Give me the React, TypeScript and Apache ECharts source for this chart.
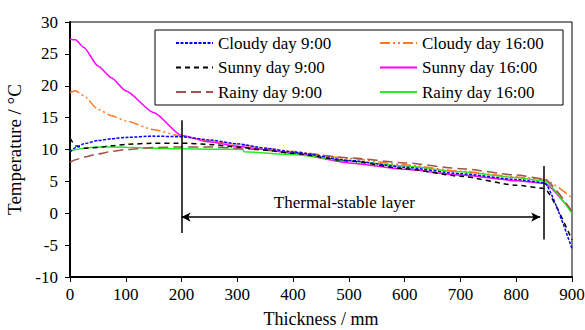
import React, { useEffect, useRef } from "react";
import * as echarts from "echarts";

const thickness = [0, 10, 25, 50, 75, 100, 150, 200, 250, 300, 350, 400, 500, 600, 700, 800, 850, 900];
const thicknessRainy16 = [0, 10, 25, 50, 100, 150, 200, 250, 310, 312, 400, 500, 600, 700, 800, 850, 900];

const cloudy9 = [9.6, 10.3, 10.9, 11.4, 11.7, 11.9, 12.1, 12.0, 11.5, 10.9, 10.2, 9.6, 8.3, 7.2, 6.2, 5.3, 4.8, -5.6];
const sunny9 = [11.8, 10.6, 10.2, 10.3, 10.6, 10.8, 11.0, 11.0, 10.8, 10.4, 9.9, 9.4, 8.2, 7.0, 5.8, 4.4, 3.9, -4.2];
const rainy9 = [8.0, 8.4, 8.8, 9.3, 9.7, 10.0, 10.3, 10.4, 10.4, 10.2, 9.9, 9.5, 8.7, 7.9, 7.0, 6.0, 5.4, 0.3];
const cloudy16 = [18.9, 19.2, 18.4, 16.3, 15.3, 14.5, 13.1, 12.1, 11.4, 10.8, 10.2, 9.7, 8.6, 7.6, 6.6, 5.7, 5.3, 2.4];
const sunny16 = [27.3, 27.2, 26.0, 23.1, 21.2, 19.2, 15.8, 12.2, 11.2, 10.5, 10.0, 9.4, 7.9, 6.9, 6.0, 5.1, 4.7, 0.2];
const rainy16 = [9.7, 10.0, 10.2, 10.4, 10.35, 10.2, 10.1, 10.05, 10.0, 9.65, 9.2, 8.2, 7.4, 6.5, 5.6, 5.1, 0.0];

const xTicks = { min: 0, max: 900, interval: 100 };
const yTicks = { min: -10, max: 30, interval: 5 };

const stableStart = 200;
const stableEnd = 850;
const arrowEnd = 843;
const arrowLevel = -0.6;
const marker1 = [14.6, -3.1];
const marker2 = [7.4, -4.1];
const annotationText = "Thermal-stable layer";
const annotationAt = [492, 1.7];

const legendLeftNames = ["Cloudy day 9:00", "Sunny day 9:00", "Rainy day 9:00"];
const legendRightNames = ["Cloudy day 16:00", "Sunny day 16:00", "Rainy day 16:00"];

const FONT = "'Liberation Serif', 'Times New Roman', serif";

function pairs(xs: number[], ys: number[]) {
  return xs.map((x, i) => [x, ys[i]]);
}

export default function App() {
  const ref = useRef<HTMLDivElement>(null);

  useEffect(() => {
    if (!ref.current) return;
    const chart = echarts.init(ref.current, null, { renderer: "svg" });

    const mk = (name: string, xs: number[], ys: number[], color: string, type: any, extra: any = {}) => ({
      name,
      type: "line",
      data: pairs(xs, ys),
      symbol: "none",
      smooth: 0.2,
      smoothMonotone: "x",
      lineStyle: { color, width: 1.5, type },
      itemStyle: { color },
      z: 3,
      ...extra,
    });

    const legendBase = {
      orient: "vertical",
      top: 34.5,
      padding: 0,
      itemWidth: 37,
      itemHeight: 14,
      itemGap: 7.5,
      selectedMode: false,
      z: 5,
      itemStyle: { color: "transparent", borderColor: "transparent", borderWidth: 0, opacity: 0 },
      textStyle: { fontFamily: FONT, fontSize: 17, color: "#000", lineHeight: 17 },
    };

    const option: any = {
      animation: false,
      textStyle: { fontFamily: FONT },
      grid: {
        left: 70,
        right: 13,
        top: 22,
        bottom: 53,
        containLabel: false,
        outerBoundsMode: "none",
        show: true,
        borderColor: "#000",
        borderWidth: 1,
        backgroundColor: "transparent",
      },
      xAxis: {
        type: "value",
        min: xTicks.min,
        max: xTicks.max,
        interval: xTicks.interval,
        name: "Thickness / mm",
        nameLocation: "middle",
        nameGap: 33,
        nameTextStyle: { fontFamily: FONT, fontSize: 18, color: "#000", lineHeight: 18 },
        axisLine: { show: true, onZero: false, lineStyle: { color: "#000", width: 2 } },
        axisTick: { show: true, length: 5, lineStyle: { color: "#000", width: 1 } },
        axisLabel: { fontFamily: FONT, fontSize: 17, color: "#000", margin: 9 },
        splitLine: { show: false },
      },
      yAxis: {
        type: "value",
        min: yTicks.min,
        max: yTicks.max,
        interval: yTicks.interval,
        name: "Temperature / °C",
        nameLocation: "middle",
        nameGap: 44,
        nameTextStyle: { fontFamily: FONT, fontSize: 19, color: "#000" },
        axisLine: { show: true, onZero: false, lineStyle: { color: "#000", width: 2 } },
        axisTick: { show: true, length: 5, lineStyle: { color: "#000", width: 1 } },
        axisLabel: { fontFamily: FONT, fontSize: 17, color: "#000", margin: 12 },
        splitLine: { show: false },
      },
      graphic: [
        {
          type: "rect",
          z: 3,
          shape: { x: 155, y: 30, width: 408, height: 75 },
          style: { fill: "#fff", stroke: "#000", lineWidth: 1 },
        },
      ],
      legend: [
        { ...legendBase, data: legendLeftNames, left: 175 },
        { ...legendBase, data: legendRightNames, left: 379 },
      ],
      series: [
        mk("Sunny day 16:00", thickness, sunny16, "#FF00FF", "solid"),
        mk("Rainy day 16:00", thicknessRainy16, rainy16, "#22EE22", "solid"),
        mk("Cloudy day 16:00", thickness, cloudy16, "#FF7722", [10, 3, 2, 3, 2, 3]),
        mk("Rainy day 9:00", thickness, rainy9, "#A0524D", [10, 5]),
        mk("Sunny day 9:00", thickness, sunny9, "#000000", [5, 4]),
        mk("Cloudy day 9:00", thickness, cloudy9, "#0000FF", [3, 1.5], {
          markLine: {
            silent: true,
            symbol: ["none", "none"],
            label: { show: false },
            lineStyle: { color: "#000", width: 1.5, type: "solid" },
            data: [
              [{ coord: [stableStart, marker1[0]] }, { coord: [stableStart, marker1[1]] }],
              [{ coord: [stableEnd, marker2[0]] }, { coord: [stableEnd, marker2[1]] }],
              [
                { coord: [stableStart, arrowLevel], symbol: "arrow", symbolSize: [7, 9] },
                { coord: [arrowEnd, arrowLevel], symbol: "arrow", symbolSize: [7, 9] },
              ],
            ],
          },
          markPoint: {
            silent: true,
            symbol: "circle",
            symbolSize: 0,
            itemStyle: { color: "transparent" },
            label: {
              show: true,
              position: "inside",
              formatter: annotationText,
              fontFamily: FONT,
              fontSize: 17,
              color: "#000",
            },
            data: [{ coord: annotationAt, value: 0 }],
          },
        }),
      ],
    };

    chart.setOption(option);
    return () => chart.dispose();
  }, []);

  return (
    <div
      ref={ref}
      style={{ position: "fixed", left: 0, top: 0, width: 585, height: 330, background: "#fff" }}
    />
  );
}
